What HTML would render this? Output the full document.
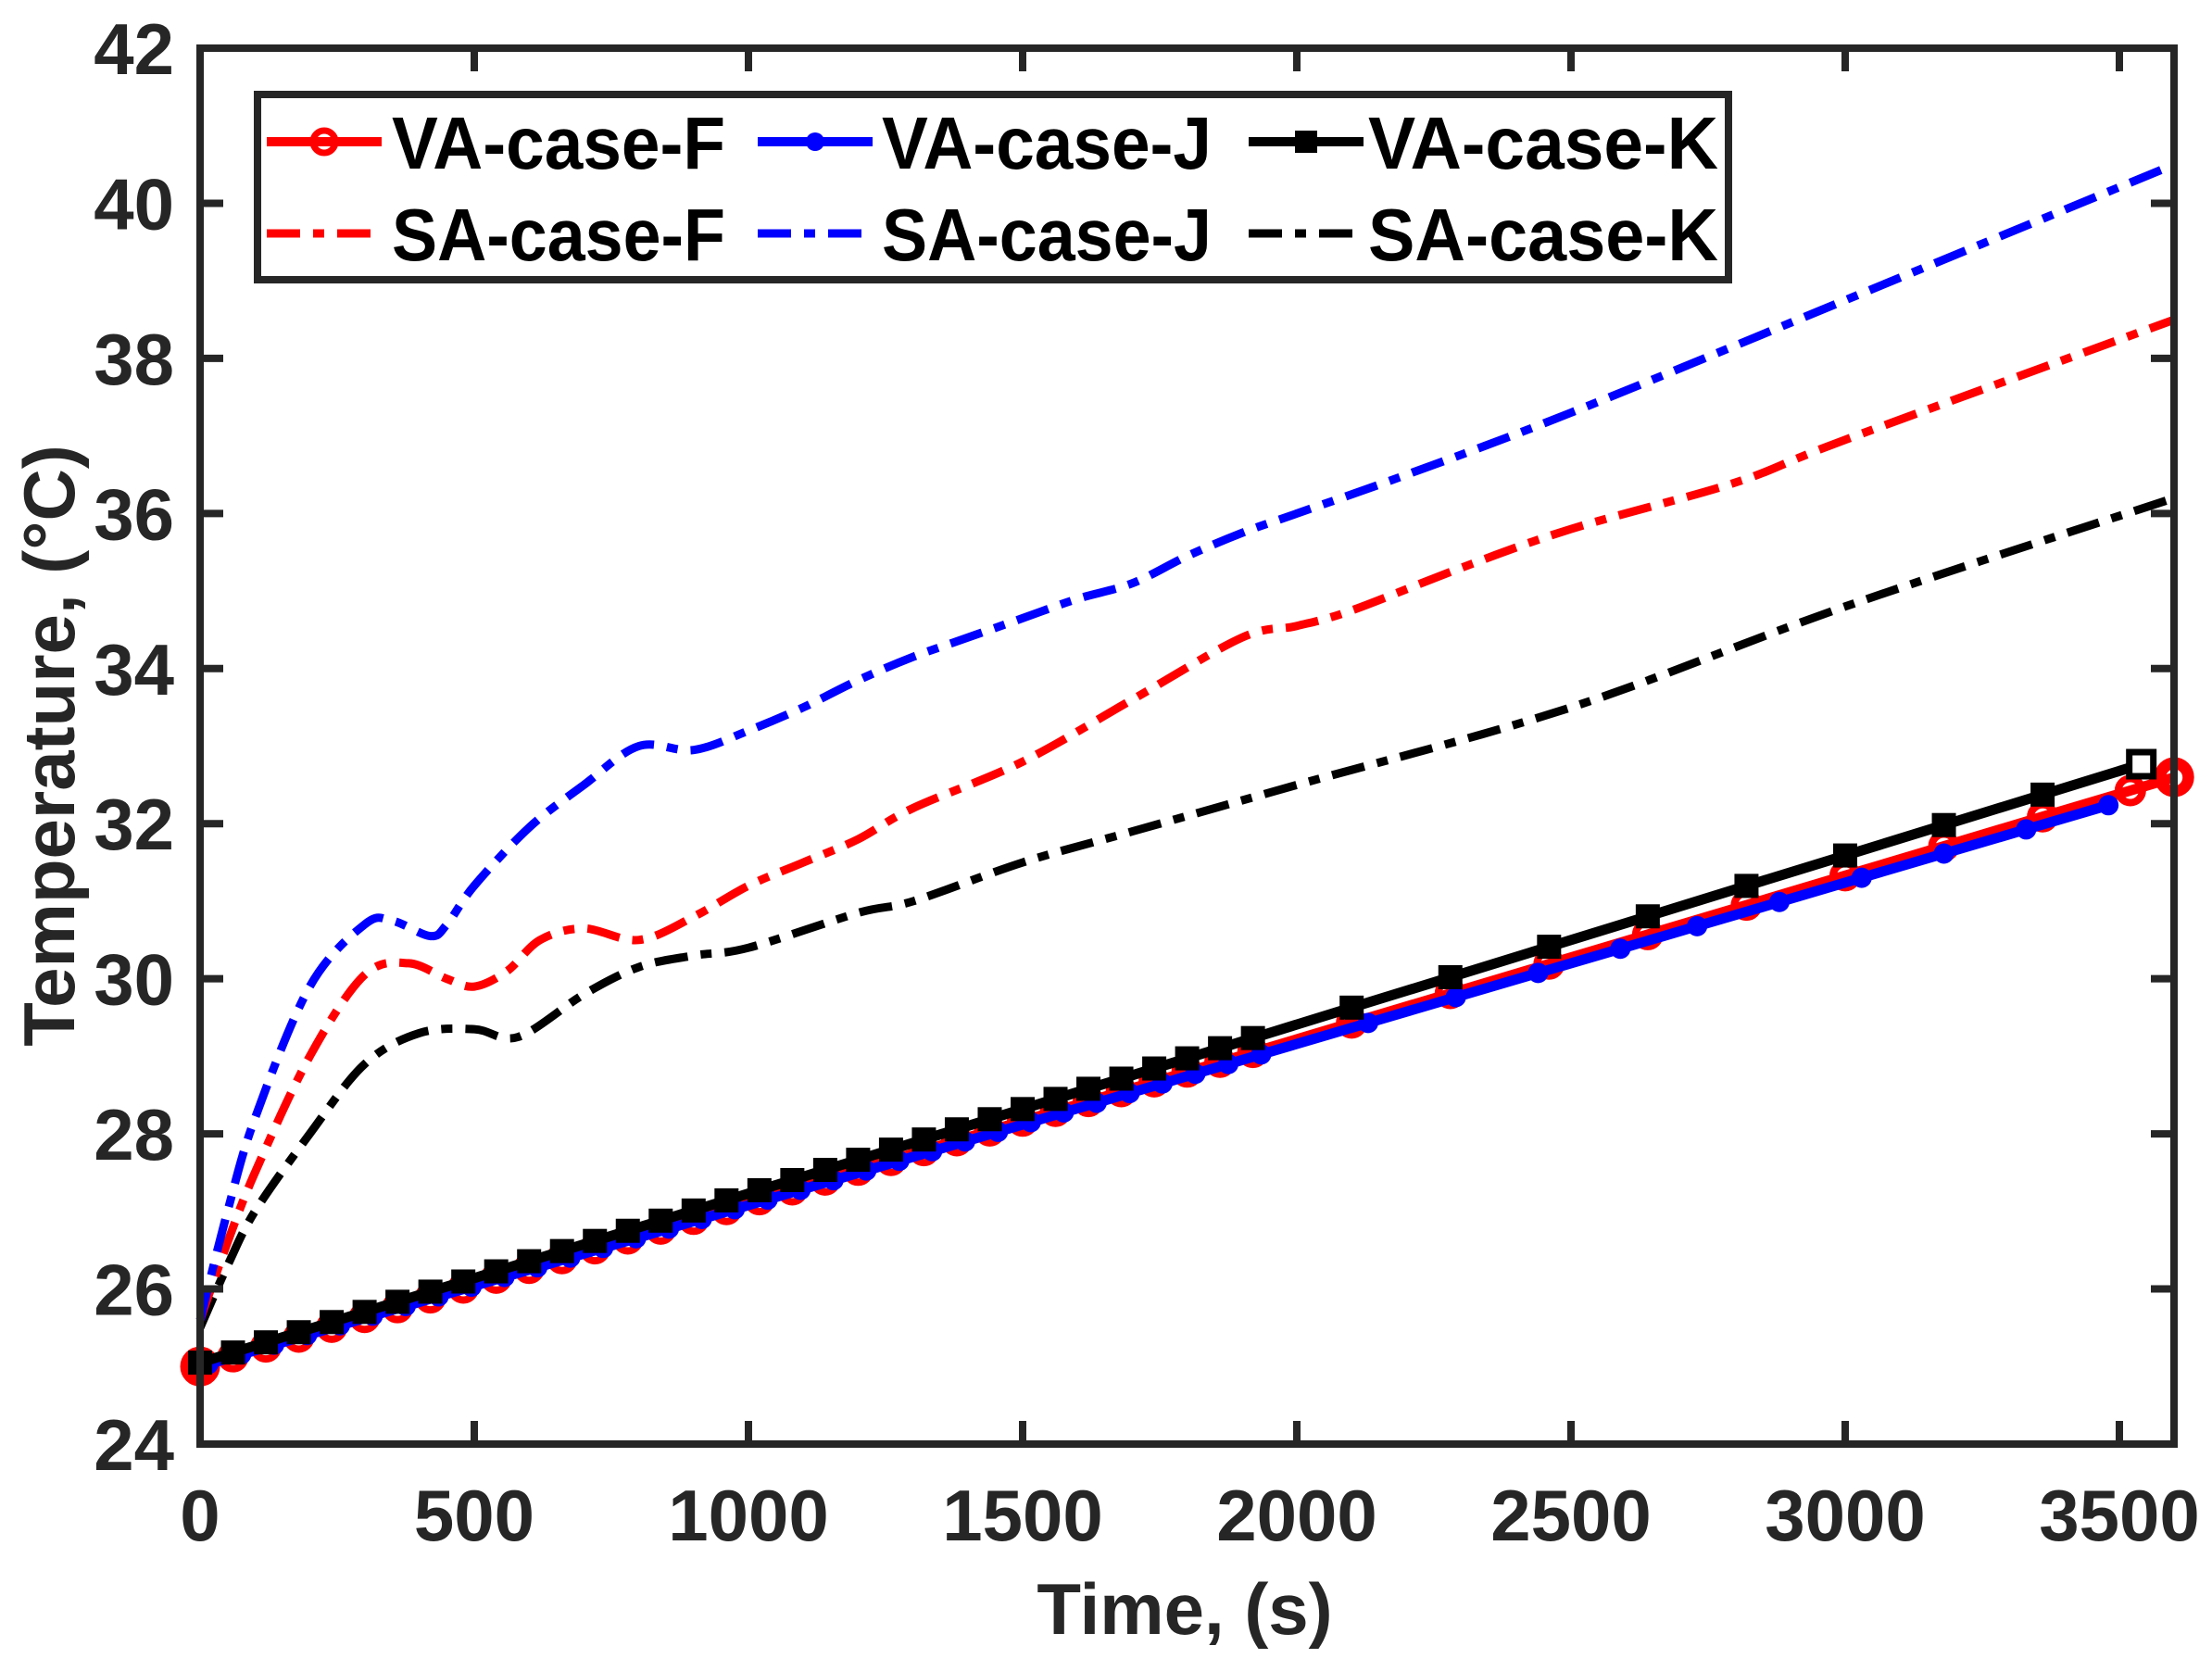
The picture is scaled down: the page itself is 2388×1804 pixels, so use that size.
<!DOCTYPE html>
<html><head><meta charset="utf-8"><style>
html,body{margin:0;padding:0;background:#fff;}
svg{display:block;}
text{font-family:"Liberation Sans",Arial,sans-serif;font-weight:bold;}
</style></head><body>
<svg id="s" width="2388" height="1804" viewBox="0 0 2388 1804" xmlns="http://www.w3.org/2000/svg">
<rect width="2388" height="1804" fill="#fff"/>
<g id="series"></g>
<g id="axes"></g>
<g id="legend">
<rect x="278" y="102" width="1588" height="200" fill="#fff" stroke="#262626" stroke-width="8"/>
<line x1="288" y1="153" x2="412" y2="153" stroke="#ff0000" stroke-width="10"/>
<circle cx="350" cy="153" r="12" fill="none" stroke="#ff0000" stroke-width="7"/>
<line x1="288" y1="252" x2="412" y2="252" stroke="#ff0000" stroke-width="9" stroke-dasharray="36,14,12,14"/>
<line x1="818" y1="153" x2="942" y2="153" stroke="#0000ff" stroke-width="10"/>
<circle cx="880" cy="153" r="10" fill="#0000ff"/>
<line x1="818" y1="252" x2="942" y2="252" stroke="#0000ff" stroke-width="9" stroke-dasharray="36,14,12,14"/>
<line x1="1348" y1="153" x2="1472" y2="153" stroke="#000" stroke-width="10"/>
<rect x="1398" y="141" width="24" height="24" fill="#000"/>
<line x1="1348" y1="252" x2="1472" y2="252" stroke="#000" stroke-width="9" stroke-dasharray="36,14,12,14"/>
<g font-size="80" fill="#000" lengthAdjust="spacingAndGlyphs">
<text x="423" y="182" textLength="360" lengthAdjust="spacingAndGlyphs">VA-case-F</text>
<text x="423" y="281" textLength="360" lengthAdjust="spacingAndGlyphs">SA-case-F</text>
<text x="952" y="182" textLength="356" lengthAdjust="spacingAndGlyphs">VA-case-J</text>
<text x="952" y="281" textLength="356" lengthAdjust="spacingAndGlyphs">SA-case-J</text>
<text x="1477" y="182" textLength="378" lengthAdjust="spacingAndGlyphs">VA-case-K</text>
<text x="1477" y="281" textLength="378" lengthAdjust="spacingAndGlyphs">SA-case-K</text>
</g>
</g>
</svg>
<script>
(function(){
var NS="http://www.w3.org/2000/svg";
function X(t){return 216+t*0.5920;}
function Y(v){return 1559-(v-24)*83.72;}
var ser=document.getElementById('series'),ax=document.getElementById('axes');
function el(p,tag,a,txt){var e=document.createElementNS(NS,tag);for(var k in a)e.setAttribute(k,a[k]);if(txt!==undefined)e.textContent=txt;p.appendChild(e);return e;}
function smooth(pts){var d="M"+pts[0][0]+","+pts[0][1];for(var i=0;i<pts.length-1;i++){var p0=pts[Math.max(0,i-1)],p1=pts[i],p2=pts[i+1],p3=pts[Math.min(pts.length-1,i+2)];
var c1x=p1[0]+(p2[0]-p0[0])/6,c1y=p1[1]+(p2[1]-p0[1])/6,c2x=p2[0]-(p3[0]-p1[0])/6,c2y=p2[1]-(p3[1]-p1[1])/6;
d+=" C"+c1x.toFixed(1)+","+c1y.toFixed(1)+" "+c2x.toFixed(1)+","+c2y.toFixed(1)+" "+p2[0].toFixed(1)+","+p2[1].toFixed(1);}return d;}
function sa(data,col){var pts=data.map(function(d){return [X(d[0]),Y(d[1])];});
el(ser,'path',{d:smooth(pts),fill:'none',stroke:col,'stroke-width':9,'stroke-dasharray':'36,14,12,14'});}
sa([[0,25.5],[50,26.3],[100,27],[200,28],[300,28.9],[400,29.3],[500,29.35],[580,29.25],[700,29.8],[800,30.15],[900,30.3],[1000,30.4],[1200,30.85],[1300,31.0],[1500,31.5],[1700,31.9],[2000,32.5],[2500,33.5],[3000,34.8],[3600,36.2]],'#000');
sa([[0,25.6],[50,26.6],[100,27.5],[200,29],[300,30.05],[380,30.2],[450,30.0],[500,29.9],[560,30.1],[620,30.5],[700,30.65],[800,30.5],[900,30.8],[1000,31.2],[1100,31.5],[1200,31.8],[1300,32.2],[1500,32.8],[1700,33.6],[1900,34.4],[2000,34.55],[2100,34.75],[2300,35.3],[2500,35.8],[2800,36.4],[3000,36.95],[3600,38.5]],'#ff0000');
sa([[0,25.6],[50,27],[100,28.2],[200,29.9],[300,30.7],[350,30.75],[420,30.55],[450,30.7],[500,31.2],[600,31.95],[700,32.5],[800,33.0],[900,32.95],[1000,33.2],[1100,33.5],[1200,33.85],[1300,34.15],[1400,34.4],[1500,34.65],[1600,34.9],[1700,35.1],[1800,35.45],[1900,35.75],[2000,36.0],[2200,36.5],[2500,37.3],[3000,38.75],[3600,40.5]],'#0000ff');
function times(late){var a=[];for(var t=0;t<=1920;t+=60)a.push(t);late.forEach(function(t){a.push(t);});return a;}
function va(ts,f,col,mk){var pts=ts.map(function(t){return [X(t),Y(f(t))];});
el(ser,'polyline',{points:pts.map(function(p){return p[0].toFixed(1)+","+p[1].toFixed(1);}).join(" "),fill:'none',stroke:col,'stroke-width':11});
pts.forEach(function(p){if(mk=='c')el(ser,'circle',{cx:p[0],cy:p[1],r:13,fill:'none',stroke:col,'stroke-width':8});
else if(mk=='d')el(ser,'circle',{cx:p[0],cy:p[1],r:11,fill:col});
else el(ser,'rect',{x:p[0]-13,y:p[1]-13,width:26,height:26,fill:col});});}
var fT=times([2100,2280,2460,2640,2820,3000,3180,3360,3520,3600]);
va(fT,function(t){return 25+t*0.00211;},'#ff0000','c');
el(ser,'circle',{cx:X(0),cy:Y(25),r:17,fill:'none',stroke:'#ff0000','stroke-width':9});
el(ser,'circle',{cx:X(3600),cy:Y(32.6),r:17,fill:'none',stroke:'#ff0000','stroke-width':9});
var jT=[];for(var t=15;t<=1980;t+=60)jT.push(t);[2130,2290,2440,2590,2730,2880,3030,3180,3330,3480].forEach(function(t){jT.push(t);});
va(jT,function(t){return 25+t*0.00208;},'#0000ff','d');
var kT=times([2100,2280,2460,2640,2820,3000,3180,3360,3540]);
va(kT,function(t){return 25.05+t*0.00218;},'#000','s');
el(ser,'rect',{x:X(3540)-13,y:Y(25.05+3540*0.00218)-13,width:26,height:26,fill:'#fff',stroke:'#000','stroke-width':7});
el(ax,'rect',{x:216,y:52,width:2131,height:1507,fill:'none',stroke:'#262626','stroke-width':8});
var g=el(ax,'g',{fill:'#262626','font-size':78});
for(var v=24;v<=42;v+=2){var y=Y(v);
el(ax,'line',{x1:216,y1:y,x2:241,y2:y,stroke:'#262626','stroke-width':8});
el(ax,'line',{x1:2347,y1:y,x2:2322,y2:y,stroke:'#262626','stroke-width':8});
el(g,'text',{x:188,y:y+28,'text-anchor':'end'},String(v));}
for(var t=0;t<=3500;t+=500){var x=X(t);
el(ax,'line',{x1:x,y1:1559,x2:x,y2:1534,stroke:'#262626','stroke-width':8});
el(ax,'line',{x1:x,y1:52,x2:x,y2:77,stroke:'#262626','stroke-width':8});
el(g,'text',{x:x,y:1663,'text-anchor':'middle'},String(t));}
el(g,'text',{x:1279,y:1764,'text-anchor':'middle'},'Time, (s)');
el(g,'text',{x:0,y:0,'text-anchor':'middle',transform:'translate(80,805) rotate(-90)'},'Temperature, (\u00B0C)');
})();
</script>
</body></html>
